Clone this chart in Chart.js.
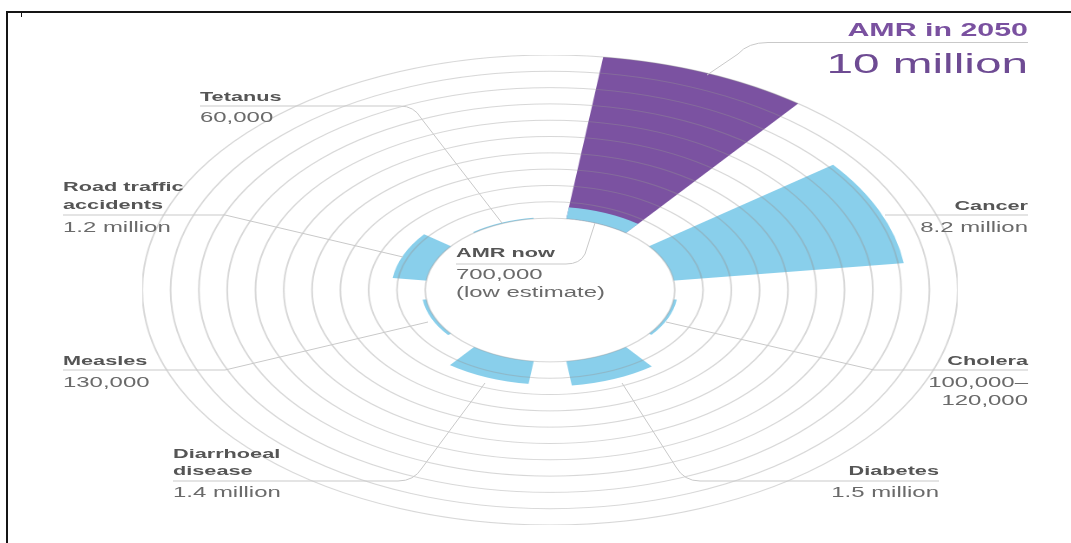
<!DOCTYPE html>
<html>
<head>
<meta charset="utf-8">
<script src="https://cdn.jsdelivr.net/npm/chart.js@4.4.1/dist/chart.umd.min.js"></script>
<style>
  html, body { margin: 0; padding: 0; background: #fff; }
  #page { position: relative; width: 1071px; height: 543px; overflow: hidden; background: #fff; }
  #stage { position: absolute; left: 0; top: 0; height: 543px; transform-origin: 0 0; }
  #wrap { position: absolute; width: 470px; height: 470px; }
  .t { position: absolute; white-space: nowrap; font-family: "Liberation Sans", Arial, Helvetica, sans-serif; }
  .b { font-weight: bold; font-size: 12.5px; color: #555; }
  .v { font-size: 13.8px; color: #6a6a6a; }
  #lines { position: absolute; left: 0; top: 0; }
  .frame { position: absolute; background: #151515; }
</style>
</head>
<body>
<div id="page">
  <div id="stage"><div id="wrap"><canvas id="c" width="470" height="470"></canvas></div></div>
  <svg id="lines" width="1071" height="543"></svg>
  <div class="frame" style="left:6px;top:11px;width:1065px;height:2px;"></div>
  <div class="frame" style="left:6px;top:11px;width:2px;height:532px;"></div>
  <div class="frame" style="left:21px;top:13px;width:1px;height:4px;"></div>
</div>
<script>
// ---------------- data ----------------
const CATEGORIES = ['AMR', 'Cancer', 'Cholera', 'Diabetes', 'Diarrhoeal disease', 'Measles', 'Road traffic accidents', 'Tetanus'];
// deaths per year, millions (AMR = projection for 2050)
const DEATHS = [10, 8.2, 0.11, 1.5, 1.4, 0.13, 1.2, 0.06];
// AMR deaths now, millions (low estimate)
const AMR_NOW = [0.7, null, null, null, null, null, null, null];
// rings of the radial grid (millions)
const RING_VALUES = [0, 1, 2, 3, 4, 5, 6, 7, 8, 9, 10];
const AXIS_MAX = 10;

// text labels: [text, class, x, centre y, align]
const LABELS = [
  ['AMR in 2050', 'amr1', 1028, 31, 'right'],
  ['10 million', 'amr2', 1028, 64, 'right'],
  ['Tetanus', 'b', 200, 97, 'left'],
  ['60,000', 'v', 200, 118, 'left'],
  ['Road traffic', 'b', 63, 187, 'left'],
  ['accidents', 'b', 63, 205, 'left'],
  ['1.2 million', 'v', 63, 228, 'left'],
  ['Cancer', 'b', 1028, 206, 'right'],
  ['8.2 million', 'v', 1028, 228, 'right'],
  ['AMR now', 'b', 456, 253, 'left'],
  ['700,000', 'v', 456, 275, 'left'],
  ['(low estimate)', 'v', 456, 293, 'left'],
  ['Measles', 'b', 63, 361, 'left'],
  ['130,000', 'v', 63, 383, 'left'],
  ['Cholera', 'b', 1028, 361, 'right'],
  ['100,000–', 'v', 1028, 383, 'right'],
  ['120,000', 'v', 1028, 401, 'right'],
  ['Diarrhoeal', 'b', 173, 454, 'left'],
  ['disease', 'b', 173, 471, 'left'],
  ['1.4 million', 'v', 173, 493, 'left'],
  ['Diabetes', 'b', 939, 471, 'right'],
  ['1.5 million', 'v', 939, 493, 'right']
];

// ---------------- layout ----------------
const SX = 1.735;          // horizontal stretch of the whole picture
const CX = 550, CY = 290;  // centre of the rings (page px)
const RADIUS = 235;        // outer ring radius (unstretched px)
const HOLE_SHARE = 0.306;  // inner hole radius / outer radius
const GAP_SHARE = 1 / 3;   // part of each sector left empty

const PURPLE = '#7b52a1';
const LIGHT = '#89cfeb';

const stage = document.getElementById('stage');
stage.style.width = (1071 / SX) + 'px';
stage.style.transform = 'scaleX(' + SX + ')';
const wrap = document.getElementById('wrap');
wrap.style.left = (CX / SX - RADIUS) + 'px';
wrap.style.top = (CY - RADIUS) + 'px';

LABELS.forEach(([txt, cls, x, cy, align]) => {
  const d = document.createElement('div');
  d.className = 't ' + cls;
  d.textContent = txt;
  let fs = 13.8;
  if (cls === 'b') fs = 12.5;
  if (cls === 'amr1') { fs = 17.5; d.style.fontWeight = 'bold'; d.style.color = '#7a51a0'; }
  if (cls === 'amr2') { fs = 27.5; d.style.color = '#6e4b93'; }
  d.style.fontSize = fs + 'px';
  d.style.lineHeight = fs + 'px';
  d.style.top = (cy - fs / 2) + 'px';
  d.style.left = (x / SX) + 'px';
  if (align === 'right') d.style.transform = 'translateX(-100%)';
  stage.appendChild(d);
});

// callout / underline paths (page px)
const CALLOUTS = [
  'M1028 42.5 L768 42.5 Q748 42.5 738 54 L707 75',
  'M885 215 L1028 215',
  'M1028 370 L874 370 L666 322',
  'M939 481 L700 481 Q684 481 676 467 L622 383',
  'M173 481 L398 481 Q414 481 422 468 L485 383',
  'M63 370 L225 370 L428 322',
  'M63 215 L225 215 L403 257',
  'M200 106 L400 106 Q414 106 421 118 L502 223',
  'M456 264 L566 264 Q580 264 585 254 L595 223'
];
const svg = document.getElementById('lines');
CALLOUTS.forEach(p => {
  const el = document.createElementNS('http://www.w3.org/2000/svg', 'path');
  el.setAttribute('d', p);
  el.setAttribute('fill', 'none');
  el.setAttribute('stroke', '#c9c9c9');
  el.setAttribute('stroke-width', '1');
  svg.appendChild(el);
});

// ---------------- chart ----------------
const radialBars = {
  id: 'radialBars',
  afterDatasetsUpdate(chart) {
    const r = chart.scales.r;
    const inner = r.getDistanceFromCenterForValue(0);
    chart.getSortedVisibleDatasetMetas().forEach(meta => {
      meta.data.forEach(arc => {
        const pad = (arc.endAngle - arc.startAngle) * GAP_SHARE / 2;
        arc.startAngle += pad;
        arc.endAngle -= pad;
        arc.innerRadius = inner;
      });
    });
  }
};

const axisMin = -AXIS_MAX * HOLE_SHARE / (1 - HOLE_SHARE);

new Chart(document.getElementById('c'), {
  type: 'polarArea',
  data: {
    labels: CATEGORIES,
    datasets: [
      { label: 'AMR now', data: AMR_NOW, backgroundColor: LIGHT, borderWidth: 0 },
      { label: 'Deaths per year', data: DEATHS, backgroundColor: DEATHS.map((v, i) => i === 0 ? PURPLE : LIGHT), borderWidth: 0 }
    ]
  },
  options: {
    responsive: false,
    devicePixelRatio: 2,
    animation: false,
    layout: { padding: 0 },
    plugins: { legend: { display: false }, tooltip: { enabled: false } },
    scales: {
      r: {
        min: axisMin,
        max: AXIS_MAX,
        startAngle: 0,
        ticks: { display: false, z: 1 },
        grid: { circular: true, color: 'rgba(150,150,150,0.38)', lineWidth: 1, z: 1 },
        angleLines: { display: false },
        pointLabels: { display: false },
        afterBuildTicks(scale) { scale.ticks = RING_VALUES.map(v => ({ value: v })); }
      }
    }
  },
  plugins: [radialBars]
});
</script>
</body>
</html>
